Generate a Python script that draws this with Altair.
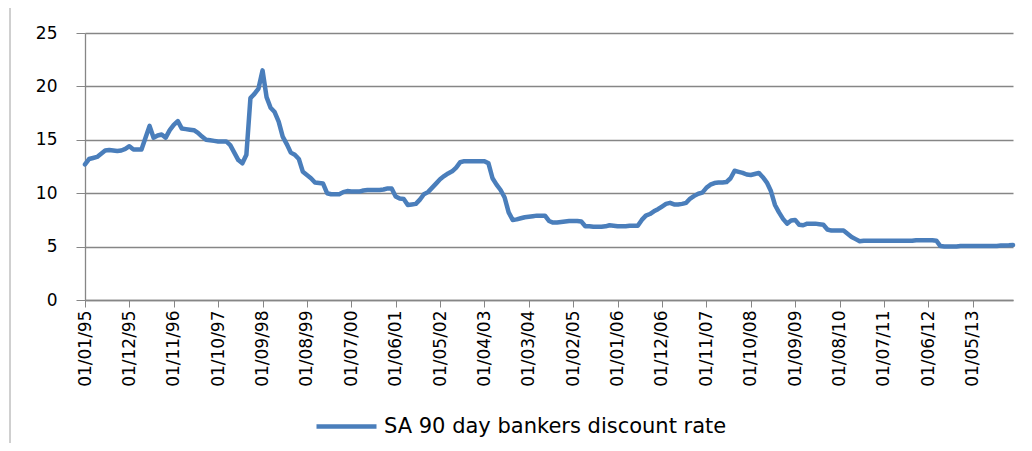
import altair as alt
import pandas as pd

series_name = "SA 90 day bankers discount rate"

# Monthly values, Jan 1995 .. Mar 2014
rate_1995 = [12.7, 13.2, 13.3, 13.4, 13.7, 14.0, 14.05, 14.0, 13.95, 14.0, 14.15, 14.4]
rate_1996 = [14.1, 14.1, 14.1, 15.2, 16.3, 15.2, 15.4, 15.5, 15.2, 15.9, 16.4, 16.75]
rate_1997 = [16.05, 16.0, 15.95, 15.9, 15.65, 15.3, 15.0, 14.95, 14.9, 14.85, 14.85, 14.85]
rate_1998 = [14.5, 13.8, 13.1, 12.8, 13.6, 18.9, 19.3, 19.8, 21.5, 19.0, 18.0, 17.6]
rate_1999 = [16.7, 15.3, 14.6, 13.8, 13.6, 13.2, 12.0, 11.7, 11.4, 11.0, 10.95, 10.9]
rate_2000 = [10.0, 9.9, 9.9, 9.9, 10.1, 10.2, 10.15, 10.15, 10.15, 10.25, 10.3, 10.3]
rate_2001 = [10.3, 10.3, 10.35, 10.45, 10.45, 9.7, 9.5, 9.45, 8.9, 8.95, 9.0, 9.4]
rate_2002 = [9.9, 10.1, 10.5, 10.9, 11.3, 11.6, 11.85, 12.05, 12.4, 12.9, 13.0, 13.0]
rate_2003 = [13.0, 13.0, 13.0, 13.0, 12.8, 11.4, 10.8, 10.3, 9.6, 8.2, 7.5, 7.55]
rate_2004 = [7.65, 7.75, 7.8, 7.85, 7.9, 7.9, 7.9, 7.4, 7.25, 7.25, 7.3, 7.35]
rate_2005 = [7.4, 7.4, 7.4, 7.35, 6.9, 6.9, 6.85, 6.85, 6.85, 6.9, 7.0, 6.95]
rate_2006 = [6.9, 6.9, 6.9, 6.95, 6.95, 6.95, 7.5, 7.9, 8.05, 8.3, 8.5, 8.75]
rate_2007 = [9.0, 9.1, 8.95, 8.95, 9.0, 9.1, 9.5, 9.75, 9.95, 10.05, 10.5, 10.8]
rate_2008 = [10.95, 11.0, 11.0, 11.05, 11.4, 12.1, 12.0, 11.9, 11.75, 11.7, 11.8, 11.9]
rate_2009 = [11.5, 11.0, 10.2, 8.9, 8.2, 7.6, 7.15, 7.45, 7.5, 7.05, 7.0, 7.15]
rate_2010 = [7.15, 7.15, 7.1, 7.05, 6.6, 6.5, 6.5, 6.5, 6.5, 6.2, 5.9, 5.7]
rate_2011 = [5.5, 5.55, 5.55, 5.55, 5.55, 5.55, 5.55, 5.55, 5.55, 5.55, 5.55, 5.55]
rate_2012 = [5.55, 5.55, 5.6, 5.6, 5.6, 5.6, 5.6, 5.55, 5.05, 5.0, 5.0, 5.0]
rate_2013 = [5.0, 5.05, 5.05, 5.05, 5.05, 5.05, 5.05, 5.05, 5.05, 5.05, 5.05, 5.1]
rate_2014 = [5.1, 5.12, 5.15]

rates = (rate_1995 + rate_1996 + rate_1997 + rate_1998 + rate_1999 + rate_2000 +
         rate_2001 + rate_2002 + rate_2003 + rate_2004 + rate_2005 + rate_2006 +
         rate_2007 + rate_2008 + rate_2009 + rate_2010 + rate_2011 + rate_2012 +
         rate_2013 + rate_2014)

# Category labels (dd/mm/yy), first of each month
dates = []
for yr in range(1995, 2015):
    for mo in range(1, 13):
        dates.append(f"01/{mo:02d}/{yr % 100:02d}")
dates = dates[:len(rates)]

tick_labels = ["01/01/95", "01/12/95", "01/11/96", "01/10/97", "01/09/98", "01/08/99",
               "01/07/00", "01/06/01", "01/05/02", "01/04/03", "01/03/04", "01/02/05",
               "01/01/06", "01/12/06", "01/11/07", "01/10/08", "01/09/09", "01/08/10",
               "01/07/11", "01/06/12", "01/05/13"]
y_ticks = [0, 5, 10, 15, 20, 25]

df = pd.DataFrame({"date": dates, "rate": rates, "series": series_name})

GREY = "#868686"
FONT = "DejaVu Sans"

line = alt.Chart(df).mark_line(strokeWidth=4.5, strokeJoin="round", strokeCap="round").encode(
    x=alt.X("date:O", sort=None, title=None,
            scale=alt.Scale(type="point", padding=0),
            axis=alt.Axis(values=tick_labels, labelAngle=-90, labelFontSize=17,
                          labelFont=FONT, labelColor="#000000", labelPadding=3,
                          tickSize=7, tickColor=GREY, domainColor=GREY,
                          domainWidth=1.3, grid=False, labelOverlap=False)),
    y=alt.Y("rate:Q", title=None,
            scale=alt.Scale(domain=[0, 25], nice=False, zero=True),
            axis=alt.Axis(values=y_ticks, labelFontSize=17, labelFont=FONT,
                          labelColor="#000000", labelPadding=19, tickSize=9,
                          tickColor=GREY, domainColor=GREY, domainWidth=1.3,
                          grid=True, gridColor=GREY, gridWidth=1.3)),
    color=alt.Color("series:N", scale=alt.Scale(range=["#4A7EBB"]),
                    legend=alt.Legend(title=None, orient="none", legendX=229, legendY=361,
                                      symbolType="stroke", symbolSize=3600,
                                      symbolStrokeWidth=4.5, labelFontSize=21,
                                      labelFont=FONT, labelColor="#000000",
                                      labelLimit=0, labelOffset=5, padding=0)),
)

border = alt.Chart(alt.Data(values=[{"b": 1}])).mark_rule(color="#A0A0A0", strokeWidth=1).encode(
    x=alt.value(-75), y=alt.value(-33), y2=alt.value(412)
)

chart = alt.layer(border, line).properties(
    width=928, height=267,
    padding={"left": 77, "top": 25, "right": 10, "bottom": 143},
    autosize=alt.AutoSizeParams(type="none"),
    background="#ffffff",
).configure_view(stroke="transparent")

chart.save("out.html", embed_options={"renderer": "svg", "actions": False})
